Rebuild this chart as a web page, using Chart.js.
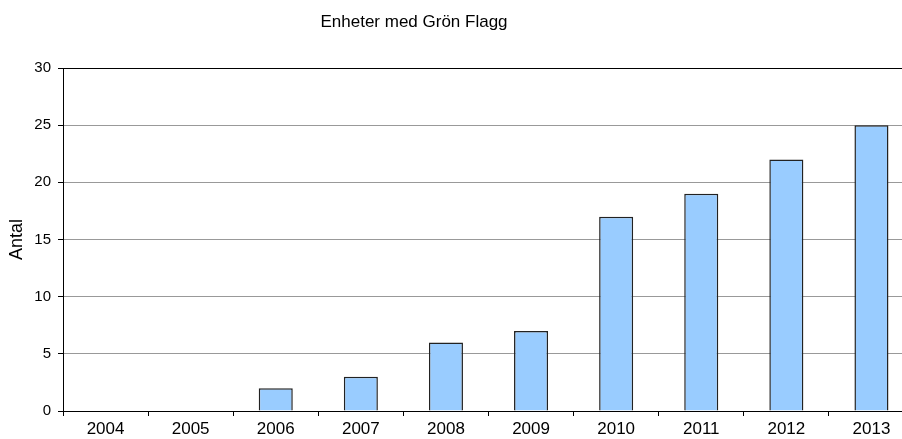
<!DOCTYPE html>
<html>
<head>
<meta charset="utf-8">
<script src="https://cdn.jsdelivr.net/npm/chart.js@4/dist/chart.umd.min.js"></script>
<style>
  html, body { margin: 0; padding: 0; background: #fff; overflow: hidden; }
  #wrap { position: relative; width: 916px; height: 439px; }
</style>
</head>
<body>
<div id="wrap"><canvas id="c" width="916" height="439"></canvas></div>
<script>
const categories = ['2004', '2005', '2006', '2007', '2008', '2009', '2010', '2011', '2012', '2013'];
const values = [0, 0, 2, 3, 6, 7, 17, 19, 22, 25];
const yTicks = [0, 5, 10, 15, 20, 25, 30];
const chartTitle = 'Enheter med Grön Flagg';
const yAxisTitle = 'Antal';

const FONT = '"Liberation Sans", Arial, sans-serif';

const titlePlugin = {
  id: 'fixedTitle',
  afterDraw(chart) {
    const ctx = chart.ctx;
    ctx.save();
    ctx.font = '17px ' + FONT;
    ctx.fillStyle = '#000';
    ctx.textAlign = 'center';
    ctx.textBaseline = 'middle';
    ctx.fillText(chartTitle, 414, 22);
    ctx.restore();
  }
};

new Chart(document.getElementById('c'), {
  type: 'bar',
  data: {
    labels: categories,
    datasets: [{
      data: values,
      backgroundColor: '#99CCFF',
      borderColor: '#222',
      borderWidth: 1.5,
      categoryPercentage: 1,
      barPercentage: 0.4
    }]
  },
  plugins: [titlePlugin],
  options: {
    responsive: false,
    animation: false,
    devicePixelRatio: 1,
    layout: { padding: { top: 68, right: 2, left: 0, bottom: 0 } },
    plugins: { legend: { display: false }, tooltip: { enabled: false }, title: { display: false } },
    scales: {
      x: {
        offset: true,
        grid: {
          offset: true,
          drawOnChartArea: false,
          drawTicks: true,
          tickLength: 5,
          tickColor: '#000'
        },
        border: { color: '#000', width: 1 },
        ticks: { color: '#000', font: { family: FONT, size: 17 }, padding: 3, maxRotation: 0 },
        afterFit(scale) { scale.height = 28; }
      },
      y: {
        min: 0, max: 30,
        afterBuildTicks(scale) { scale.ticks = yTicks.map(v => ({ value: v })); },
        grid: {
          color: ctx => (ctx.tick && (ctx.tick.value === 30 || ctx.tick.value === 0)) ? '#000' : '#999',
          lineWidth: 1,
          tickLength: 5,
          tickColor: '#000'
        },
        border: { color: '#000', width: 1 },
        ticks: { color: '#000', font: { family: FONT, size: 15 }, padding: 7 },
        title: { display: true, text: yAxisTitle, color: '#000', font: { family: FONT, size: 18 }, padding: { top: 6, bottom: 0 } },
        afterFit(scale) { scale.width = 63; }
      }
    }
  }
});
</script>
</body>
</html>
